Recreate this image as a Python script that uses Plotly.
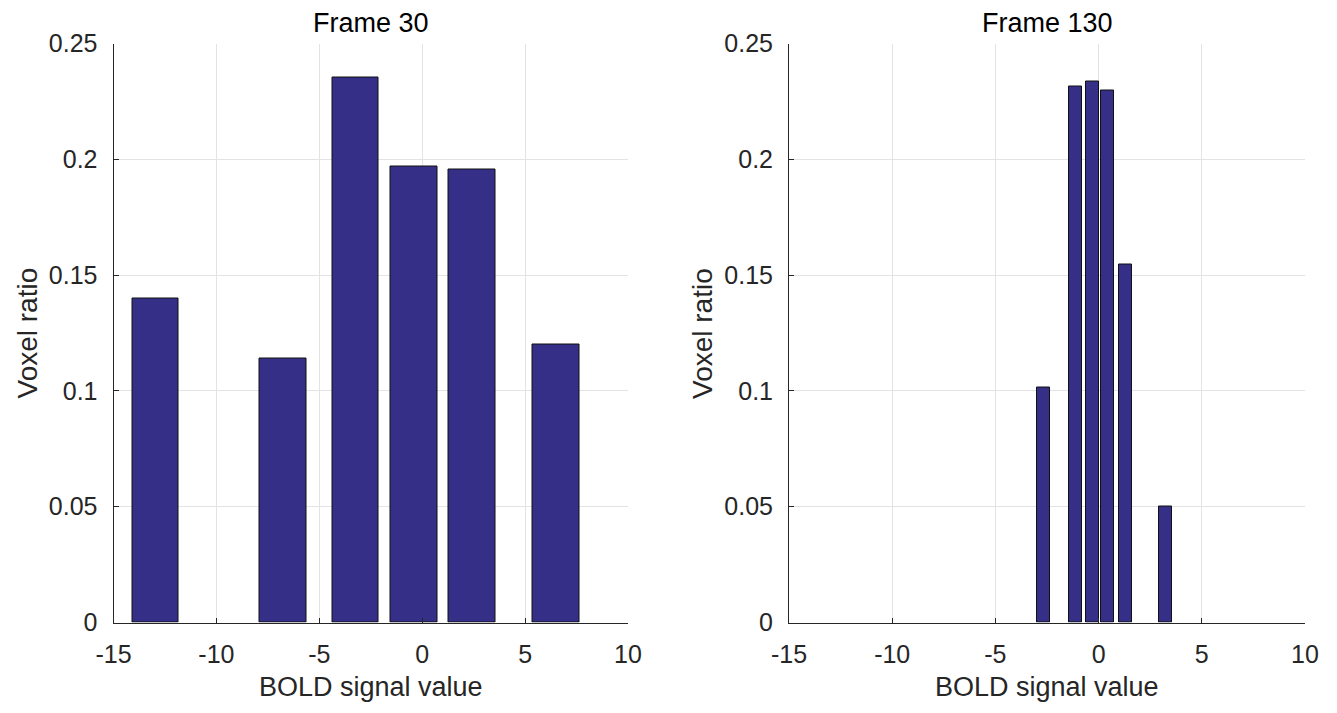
import plotly.graph_objects as go

# Data
frame30_x = [-12.96, -6.75, -3.24, -0.40, 2.43, 6.50]
frame30_y = [0.1397, 0.114, 0.2353, 0.197, 0.1957, 0.1199]
frame130_x = [-2.69, -1.10, -0.31, 0.42, 1.30, 3.24]
frame130_y = [0.1016, 0.2316, 0.2336, 0.2296, 0.1546, 0.050]
x_ticks = [-15, -10, -5, 0, 5, 10]
x_tick_labels = ["-15", "-10", "-5", "0", "5", "10"]
y_ticks = [0, 0.05, 0.1, 0.15, 0.2, 0.25]
y_tick_labels = ["0", "0.05", "0.1", "0.15", "0.2", "0.25"]
titles = ["Frame 30", "Frame 130"]

# page body has an 8px margin; size the figure to fit the window
OFF = 8
W, H = 1337 - 2 * OFF, 713 - 2 * OFF
bar_color = "#362f87"
axis_color = "#262626"
grid_color = "#e3e3e3"
font_family = "Liberation Sans, Arial, sans-serif"


def px(rx):
    return (rx - OFF) / W


def py(ry):
    return 1 - (ry - OFF) / H


fig = go.Figure()
fig.add_trace(go.Bar(x=frame30_x, y=frame30_y, width=2.28, xaxis="x", yaxis="y",
                     marker=dict(color=bar_color, line=dict(color="#111111", width=1)),
                     showlegend=False))
fig.add_trace(go.Bar(x=frame130_x, y=frame130_y, width=0.63, xaxis="x2", yaxis="y2",
                     marker=dict(color=bar_color, line=dict(color="#111111", width=1)),
                     showlegend=False))

y_dom = [py(622.5), py(43.5)]
dom1 = [px(113.5), px(628.0)]
dom2 = [px(789.0), px(1305.0)]


def xax(dom, anchor):
    return dict(domain=dom, anchor=anchor, range=[-15, 10], tickvals=x_ticks,
                ticktext=x_tick_labels, automargin=False,
                showgrid=True, gridcolor=grid_color, gridwidth=1, zeroline=False,
                showline=True, linecolor=axis_color, linewidth=1, mirror=False,
                ticks="inside", ticklen=5, tickcolor=axis_color, ticklabelstandoff=9,
                tickfont=dict(size=25, color=axis_color, family=font_family))


def yax(anchor):
    return dict(domain=y_dom, anchor=anchor, range=[0, 0.25], tickvals=y_ticks,
                ticktext=y_tick_labels, automargin=False,
                showgrid=True, gridcolor=grid_color, gridwidth=1, zeroline=False,
                showline=True, linecolor=axis_color, linewidth=1, mirror=False,
                ticks="inside", ticklen=5, tickcolor=axis_color, ticklabelstandoff=10,
                tickfont=dict(size=25, color=axis_color, family=font_family))


annotations = []
for (l, r), t in zip([(113.5, 628.0), (789.0, 1305.0)], titles):
    cx = px((l + r) / 2)
    annotations.append(dict(text=t, x=cx, y=py(23.5), xref="paper", yref="paper",
                            xanchor="center", yanchor="middle", showarrow=False,
                            font=dict(size=27, color="#000000", family=font_family)))
    annotations.append(dict(text="BOLD signal value", x=cx, y=py(687), xref="paper",
                            yref="paper", xanchor="center", yanchor="middle", showarrow=False,
                            font=dict(size=27, color=axis_color, family=font_family)))
for l in [113.5, 789.0]:
    annotations.append(dict(text="Voxel ratio", x=px(l - 87), y=py(333),
                            xref="paper", yref="paper", xanchor="center", yanchor="middle",
                            textangle=-90, showarrow=False,
                            font=dict(size=28, color=axis_color, family=font_family)))

fig.update_layout(
    width=W, height=H,
    margin=dict(l=0, r=0, t=0, b=0),
    paper_bgcolor="white", plot_bgcolor="white",
    xaxis=xax(dom1, "y"), yaxis=yax("x"),
    xaxis2=xax(dom2, "y2"), yaxis2=yax("x2"),
    annotations=annotations,
    bargap=0,
)

fig.write_html("out.html")
